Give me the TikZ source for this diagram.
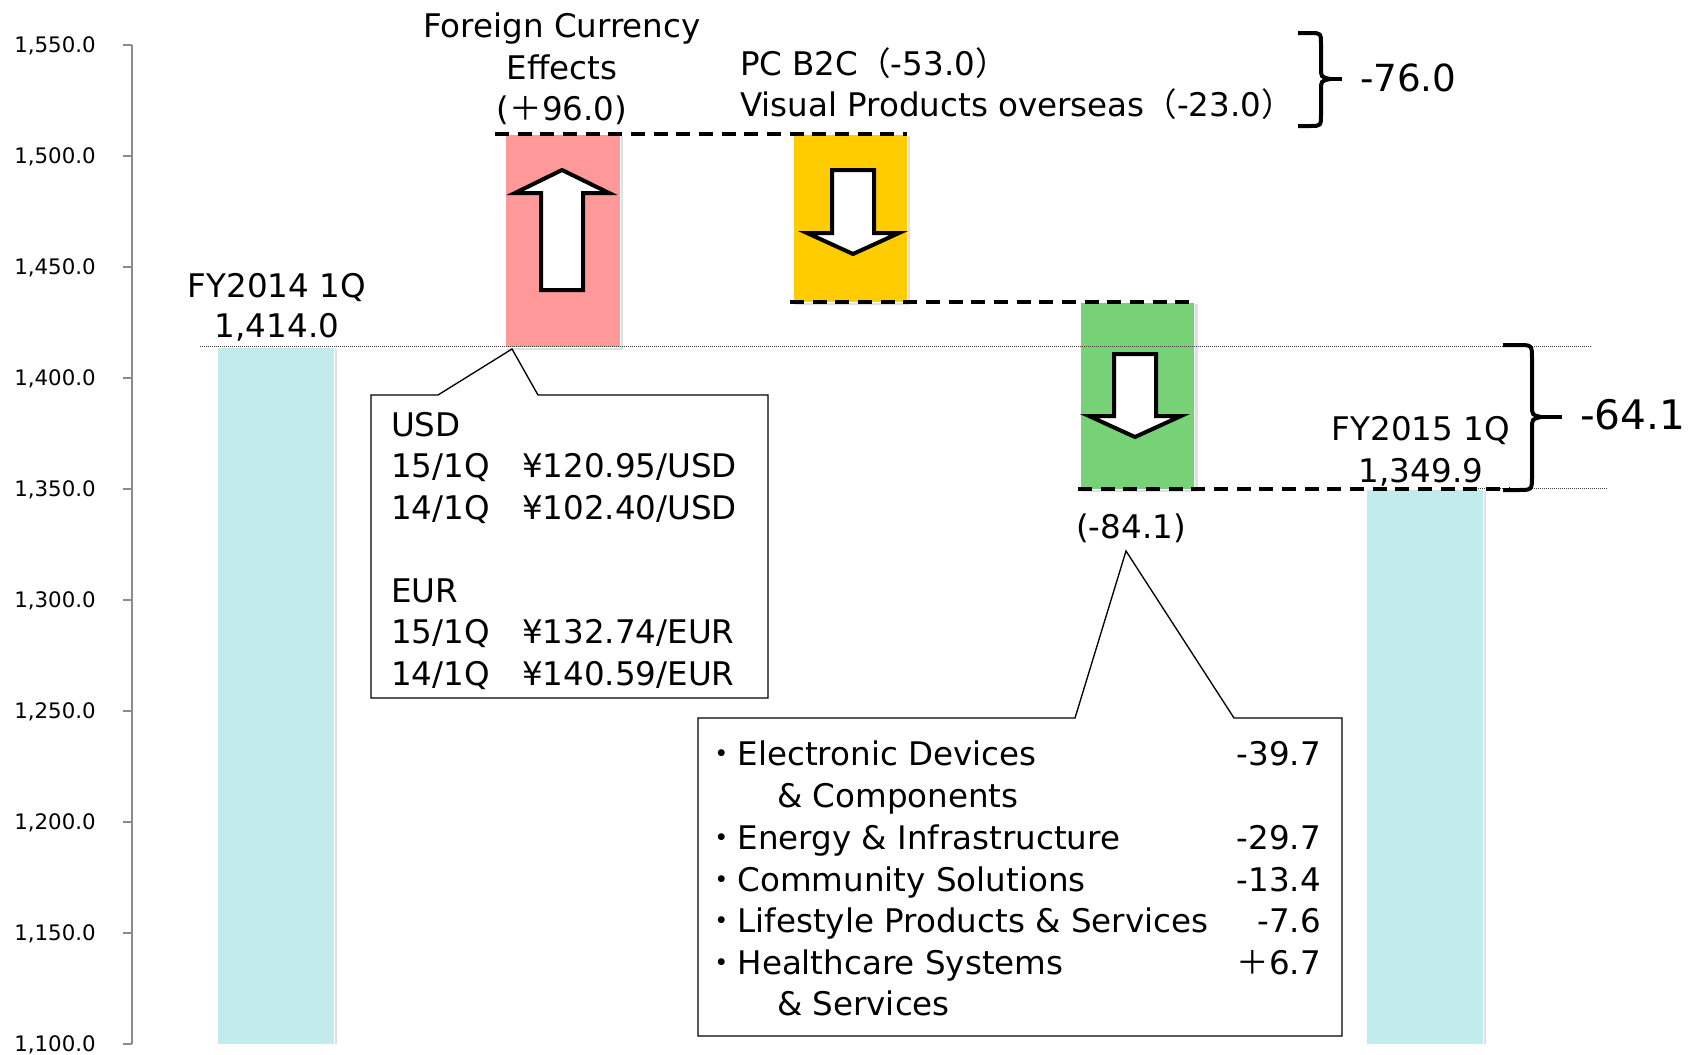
\documentclass[tikz,border=0pt]{standalone}
\usepackage{fontspec}
\setmainfont{DejaVu Sans}
\newfontfamily\cjk{Noto Sans CJK JP}
\definecolor{barcyan}{HTML}{C2EBEB}
\definecolor{barpink}{HTML}{FF9999}
\definecolor{baryellow}{HTML}{FFCC00}
\definecolor{bargreen}{HTML}{77D177}
\definecolor{axisgray}{HTML}{8C8C8C}
\begin{document}
\begin{tikzpicture}[x=0.75pt,y=-0.75pt,
  txt/.style={font=\fontsize{24.4}{30}\selectfont, inner sep=0pt, outer sep=0pt},
  bigtxt/.style={font=\fontsize{28}{32}\selectfont, inner sep=0pt, outer sep=0pt},
  hugetxt/.style={font=\fontsize{30.5}{34}\selectfont, inner sep=0pt, outer sep=0pt},
  ticklab/.style={font=\fontsize{16}{18}\selectfont, inner sep=0pt, anchor=base east},
  barbox/.style={draw=white, line width=0.75pt},
  barshadow/.style={fill=black!12},
  blockarrow/.style={draw=black, fill=white, line width=3pt, line join=miter},
  stepline/.style={draw=black, line width=3pt, dash pattern=on 10.5pt off 6.5pt},
  guide/.style={draw=black!75, line width=0.75pt, dash pattern=on 0.75pt off 0.75pt},
  calloutbox/.style={draw=black, fill=white, line width=1pt, line join=miter},
  bracepath/.style={draw=black, line width=3pt}
]
\useasboundingbox (0,0) rectangle (1697,1054);
\fill[white] (0,0) rectangle (1697,1054);

% axis
\draw[axisgray, line width=1.5pt] (132,45) -- (132,1044);
\foreach \lab [count=\i from 0] in {{1,550.0},{1,500.0},{1,450.0},{1,400.0},{1,350.0},{1,300.0},{1,250.0},{1,200.0},{1,150.0},{1,100.0}}{
  \draw[axisgray, line width=1.5pt] (123,45+111*\i) -- (132,45+111*\i);
  \node[ticklab] (tick\i) at (96,52.5+111*\i) {\lab};
}

% bar shadows
\fill[barshadow] (219,349) rectangle (337,1044);
\fill[barshadow] (507,136) rectangle (623,350);
\fill[barshadow] (795,136) rectangle (910,305);
\fill[barshadow] (1082,304) rectangle (1198,492);
\fill[barshadow] (1368,491) rectangle (1486,1044);

% bars
\path[barbox, fill=barcyan]   (217,347) rectangle (334,1044);
\path[barbox, fill=barpink]   (505,134) rectangle (620,347);
\path[barbox, fill=baryellow] (793,134) rectangle (907,302);
\path[barbox, fill=bargreen]  (1080,302) rectangle (1194,489);
\path[barbox, fill=barcyan]   (1366,489) rectangle (1483,1044);

% guide dotted lines
\draw[guide] (200,346) -- (1591,346);
\draw[guide] (1478,488) -- (1607,488);

% level dashed lines
\coordinate (d1a) at (495,134);  \coordinate (d1b) at (907,134);
\coordinate (d2a) at (790,302);  \coordinate (d2b) at (1194,302);
\coordinate (d3a) at (1078,489); \coordinate (d3b) at (1510,489);
\draw[stepline] (d1a) -- (d1b);
\draw[stepline] (d2a) -- (d2b);
\draw[stepline] (d3a) -- (d3b);

% block arrows
\draw[blockarrow] (562,170) -- (609,193) -- (583,193) -- (583,290) -- (541,290) -- (541,193) -- (515,193) -- cycle;
\draw[blockarrow] (853,254) -- (899,233) -- (874,233) -- (874,170) -- (832,170) -- (832,233) -- (807,233) -- cycle;
\draw[blockarrow] (1135,437) -- (1181,416) -- (1156,416) -- (1156,354) -- (1114,354) -- (1114,416) -- (1089,416) -- cycle;

% braces
\draw[bracepath] (1298,33) -- (1310,33) .. controls (1321,33) .. (1321,45) -- (1321,68)
  .. controls (1321,77) .. (1330,79) .. controls (1321,81) .. (1321,90) -- (1321,114)
  .. controls (1321,126) .. (1310,126) -- (1298,126);
\draw[bracepath] (1330,79) -- (1342,79);
\draw[bracepath] (1503,345) -- (1518,345) .. controls (1532,345) .. (1532,359) -- (1532,405)
  .. controls (1532,415) .. (1541,417) .. controls (1532,419) .. (1532,429) -- (1532,476)
  .. controls (1532,490) .. (1518,490) -- (1503,490);
\draw[bracepath] (1541,417) -- (1562,417);

% top labels
\node[txt, anchor=base] (fc1) at (562,37) {Foreign Currency};
\node[txt, anchor=base] (fc2) at (562,79) {Effects};
\node[txt, anchor=base] (fc3) at (562,120) {({\cjk ＋}96.0)};
\node[txt, anchor=base west] (pc1) at (740,75) {PC B2C{\cjk （}-53.0{\cjk ）}};
\node[txt, anchor=base west] (pc2) at (740,116) {Visual Products overseas{\cjk （}-23.0{\cjk ）}};
\node[bigtxt, anchor=base west] (t76) at (1360,91) {-76.0};
\node[hugetxt, anchor=base west] (t64) at (1580,429) {-64.1};

\node[txt, anchor=base] (fy14a) at (277,297) {FY2014 1Q};
\node[txt, anchor=base] (fy14b) at (277,337) {1,414.0};
\node[txt, anchor=base] (fy15a) at (1421,440) {FY2015 1Q};
\node[txt, anchor=base] (fy15b) at (1421,482) {1,349.9};
\node[txt, anchor=base] (m841) at (1131,538) {(-84.1)};

% callout 1
\coordinate (c1tip) at (512,349);
\draw[calloutbox] (371,395) -- (438,395) -- (c1tip) -- (538,395) -- (768,395) -- (768,698) -- (371,698) -- cycle;
\node[txt, anchor=base west] (u0) at (391,436) {USD};
\node[txt, anchor=base west] (u1) at (391,477.5) {15/1Q};
\node[txt, anchor=base west] (u1r) at (522,477.5) {¥120.95/USD};
\node[txt, anchor=base west] (u2) at (391,519) {14/1Q};
\node[txt, anchor=base west] (u2r) at (522,519) {¥102.40/USD};
\node[txt, anchor=base west] (e0) at (391,602) {EUR};
\node[txt, anchor=base west] (e1) at (391,643.5) {15/1Q};
\node[txt, anchor=base west] (e1r) at (522,643.5) {¥132.74/EUR};
\node[txt, anchor=base west] (e2) at (391,685) {14/1Q};
\node[txt, anchor=base west] (e2r) at (522,685) {¥140.59/EUR};

% callout 2
\coordinate (c2tip) at (1126,551);
\draw[calloutbox] (698,718) -- (1075,718) -- (c2tip) -- (1234,718) -- (1342,718) -- (1342,1036) -- (698,1036) -- cycle;
\foreach \yy/\lab/\num [count=\k] in {
  765/{Electronic Devices}/{-39.7},
  849/{Energy \& Infrastructure}/{-29.7},
  891/{Community Solutions}/{-13.4},
  932/{Lifestyle Products \& Services}/{-7.6},
  974/{Healthcare Systems}/{{\cjk ＋}6.7}}{
  \node[txt, anchor=base west] (seg\k) at (705,\yy) {{\cjk ・}\lab};
  \node[txt, anchor=base east] (val\k) at (1321,\yy) {\num};
}
\node[txt, anchor=base west] (seg1b) at (777,807) {\& Components};
\node[txt, anchor=base west] (seg5b) at (777,1015) {\& Services};
\end{tikzpicture}
\end{document}
